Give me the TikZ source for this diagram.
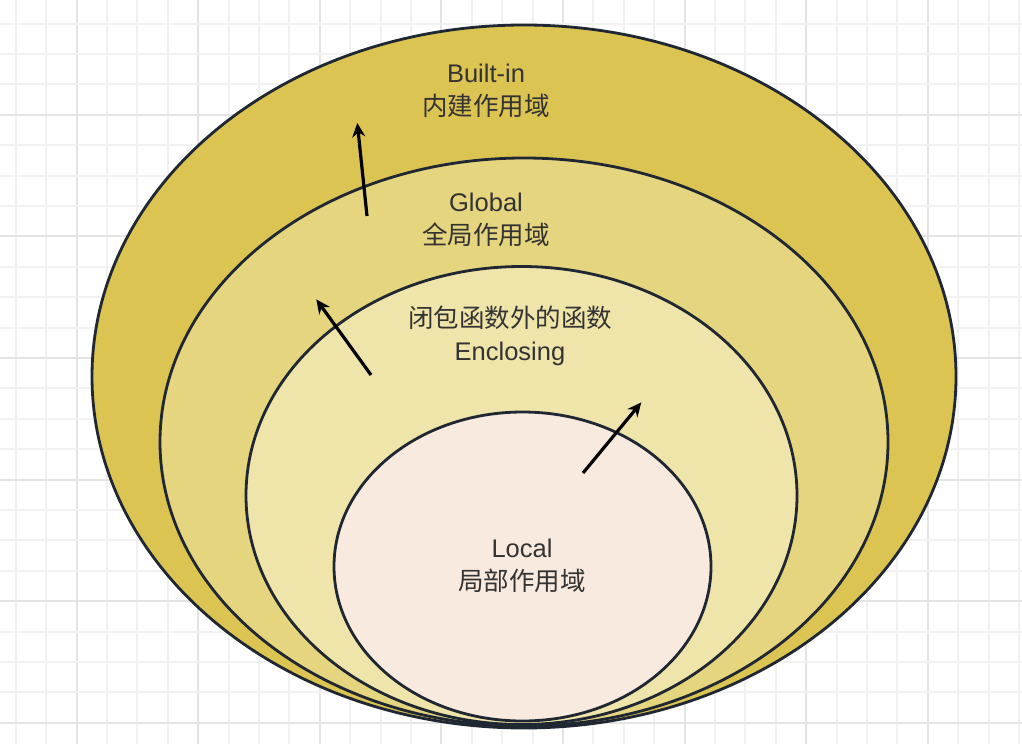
\documentclass[tikz,border=0pt]{standalone}
\usepackage{fontspec}
\setmainfont{Liberation Sans}
\newfontfamily\cjk{Noto Sans CJK SC}
\usetikzlibrary{arrows.meta}
\definecolor{gridminor}{HTML}{F1F1F1}
\definecolor{gridmajor}{HTML}{E4E4E4}
\definecolor{cBuilt}{HTML}{DBC452}
\definecolor{cGlobal}{HTML}{E4D57E}
\definecolor{cEncl}{HTML}{EFE4A9}
\definecolor{cLocal}{HTML}{F8EADE}
\definecolor{edge}{HTML}{1F2733}
\definecolor{txt}{HTML}{333333}
\tikzset{
  scope/.style={draw=edge, line width=2.8pt},
  label/.style={text=txt, font=\fontsize{25.5}{33}\selectfont, align=center, inner sep=0pt},
  flow/.style={draw=black, line width=3.2pt, -{Stealth[length=14pt,width=13pt]}, shorten >=-2pt},
}
\begin{document}
\begin{tikzpicture}[x=1pt,y=-1pt]
\useasboundingbox (0,0) rectangle (1022,744);
\fill[white] (0,0) rectangle (1022,744);
% grid
\foreach \k in {0,...,33} {
  \pgfmathsetmacro{\gx}{15.7+30.4*\k}
  \pgfmathtruncatemacro{\m}{mod(\k+2,4)}
  \ifnum\m=0
    \draw[gridmajor, line width=2pt] (\gx,0) -- (\gx,744);
  \else
    \draw[gridminor, line width=2pt] (\gx,0) -- (\gx,744);
  \fi
}
\foreach \k in {0,...,24} {
  \pgfmathsetmacro{\gy}{23.5+30.4*\k}
  \pgfmathtruncatemacro{\m}{mod(\k+1,4)}
  \ifnum\m=0
    \draw[gridmajor, line width=2pt] (0,\gy) -- (1022,\gy);
  \else
    \draw[gridminor, line width=2pt] (0,\gy) -- (1022,\gy);
  \fi
}
% scopes
\filldraw[scope, fill=cBuilt] (524,376.5) ellipse [x radius=432, y radius=351.5];
\filldraw[scope, fill=cGlobal] (524,442) ellipse [x radius=364, y radius=284];
\filldraw[scope, fill=cEncl] (521.5,495.5) ellipse [x radius=275.5, y radius=229];
\filldraw[scope, fill=cLocal] (522.5,566.5) ellipse [x radius=188.5, y radius=154.5];
% labels
\node[label] (builtin) at (486,91) {Built-in\\{\cjk 内建作用域}};
\node[label] (global) at (486,220) {Global\\{\cjk 全局作用域}};
\node[label] (encl) at (510,336) {{\cjk 闭包函数外的函数}\\Enclosing};
\node[label] (local) at (522,566) {Local\\{\cjk 局部作用域}};
% arrows
\coordinate (a1s) at (367,216);
\coordinate (a1e) at (357.5,125);
\coordinate (a2s) at (371,375);
\coordinate (a2e) at (317.5,301);
\coordinate (a3s) at (583,473);
\coordinate (a3e) at (640,404);
\draw[flow] (a1s) -- (a1e);
\draw[flow] (a2s) -- (a2e);
\draw[flow] (a3s) -- (a3e);
\end{tikzpicture}
\end{document}
